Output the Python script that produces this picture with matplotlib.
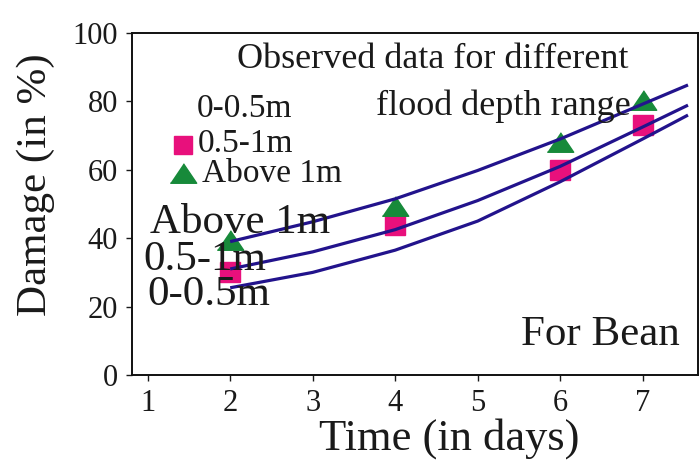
import matplotlib
matplotlib.use("Agg")
import matplotlib.pyplot as plt

plt.rcParams['font.family'] = ['Liberation Serif', 'DejaVu Serif']

# Observed data
days = [2, 4, 6, 7]
obs_mid = [30, 44, 60, 73]        # 0.5-1m (squares)
obs_high = [39.5, 49.5, 68, 80.5]  # Above 1m (triangles)

# Fitted curves
curve_days = [2, 3, 4, 5, 6, 7, 7.55]
curve_high = [39, 44.8, 51.5, 59.8, 69.0, 79.2, 84.8]
curve_mid = [31, 36, 42.5, 51, 61, 72.5, 78.9]
curve_low = [25.5, 30, 36.5, 45, 56.5, 69, 76]

xticks = [1, 2, 3, 4, 5, 6, 7]
yticks = [0, 20, 40, 60, 80, 100]

line_color = '#22138c'
pink = '#e8107c'
green = '#178a3a'
txt = '#1a1a1a'
tri = [(-1, -0.74), (1, -0.74), (0, 0.74)]

fig = plt.figure(figsize=(7, 4.62), dpi=100)
ax = fig.add_axes([0.1886, 0.1883, 0.997 - 0.1886, 0.9286 - 0.1883])

for c in (curve_high, curve_mid, curve_low):
    ax.plot(curve_days, c, color=line_color, lw=2.3, zorder=4, solid_capstyle='butt')

ax.plot(days, obs_mid, linestyle='none', marker='s', markersize=14, color=pink, zorder=3)
ax.plot(days, obs_high, linestyle='none', marker=tri, markersize=19, color=green, zorder=3)

ax.set_xlim(0.81, 7.67)
ax.set_ylim(0, 100)
ax.set_xticks(xticks)
ax.set_yticks(yticks)
ax.tick_params(direction='out', length=4, width=1, labelsize=22, colors=txt, pad=6)
for s in ax.spines.values():
    s.set_linewidth(1.4)
    s.set_color('#111111')

ax.set_xlabel('Time (in days)', fontsize=32, color=txt, labelpad=0)
ax.xaxis.set_label_coords(0.56, -0.125)
ax.set_ylabel('Damage (in %)', fontsize=31, color=txt)
ax.yaxis.set_label_coords(-0.136, 0.556)

def fx(px):
    return px / 700.0

def fy(py):
    return 1 - py / 462.0

fig.text(fx(433), fy(68), 'Observed data for different', fontsize=26, color=txt,
         ha='center', va='baseline')
fig.text(fx(503), fy(115), 'flood depth range', fontsize=26, color=txt,
         ha='center', va='baseline', zorder=1)

# legend-like entries
fig.text(fx(197), fy(117), '0-0.5m', fontsize=24, color=txt, ha='left', va='baseline')
fig.text(fx(198), fy(152), '0.5-1m', fontsize=24, color=txt, ha='left', va='baseline')
fig.text(fx(202), fy(182), 'Above 1m', fontsize=24, color=txt, ha='left', va='baseline')
fig.lines.append(plt.Line2D([fx(183)], [fy(145)], transform=fig.transFigure,
                            marker='s', markersize=13, color=pink, linestyle='none'))
fig.lines.append(plt.Line2D([fx(183)], [fy(173)], transform=fig.transFigure,
                            marker=tri, markersize=19, color=green, linestyle='none'))

# curve labels
fig.text(fx(150), fy(233), 'Above 1m', fontsize=31, color=txt, ha='left', va='baseline')
fig.text(fx(143), fy(270), '0.5-1m', fontsize=31, color=txt, ha='left', va='baseline')
fig.text(fx(147), fy(305), '0-0.5m', fontsize=31, color=txt, ha='left', va='baseline')

fig.text(fx(680), fy(345), 'For Bean', fontsize=31, color=txt, ha='right', va='baseline')

fig.savefig('out.png', dpi=100)
